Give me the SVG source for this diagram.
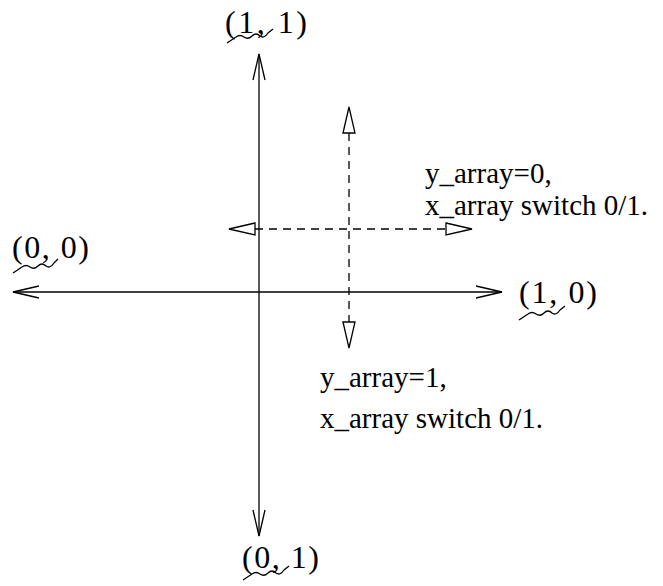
<svg xmlns="http://www.w3.org/2000/svg" width="663" height="586" viewBox="0 0 663 586">
<style>
.lbl{font-family:"Liberation Serif","Times New Roman",serif;font-size:32px;fill:#000}
.txt{font-family:"Liberation Serif","Times New Roman",serif;font-size:29px;fill:#000}
.axis{stroke:#000;stroke-width:1.3;fill:none}
.dash{stroke:#000;stroke-width:1.3;fill:none;stroke-dasharray:8,6}
.tri{stroke:#000;stroke-width:1.3;fill:#fff}
.sq{stroke:#000;stroke-width:1.3;fill:none}
</style>
<rect width="663" height="586" fill="#fff"/>
<g id="connectors">
  <line class="axis" x1="259" y1="54" x2="259" y2="536"/>
  <polyline class="axis" points="253,80 259,54 265,80"/>
  <polyline class="axis" points="253,510 259,536 265,510"/>
  <line class="axis" x1="13" y1="292" x2="502" y2="292"/>
  <polyline class="axis" points="39,286 13,292 39,298"/>
  <polyline class="axis" points="476,286 502,292 476,298"/>
  <line class="dash" x1="349" y1="133" x2="349" y2="322"/>
  <polygon class="tri" points="343,133 349,107 355,133"/>
  <polygon class="tri" points="343,322 349,348 355,322"/>
  <line class="dash" x1="255" y1="229" x2="446" y2="229"/>
  <polygon class="tri" points="255,223 229,229 255,235"/>
  <polygon class="tri" points="446,223 472,229 446,235"/>
</g>
<g id="n11">
  <text class="lbl" x="225" y="33" textLength="82" lengthAdjust="spacing">(1, 1)</text>
  <path class="sq" d="M227,43 L236,37 Q240,34 244,37 Q248,40 252,36 Q256,32 260,36 Q264,39 268,33 L273,29"/>
</g>
<g id="n00">
  <text class="lbl" x="12" y="258" textLength="77" lengthAdjust="spacing">(0, 0)</text>
  <path class="sq" d="M13,273 L22,267 Q26,264 30,267 Q34,270 38,266 Q42,262 46,266 Q50,269 54,263 L58,259"/>
</g>
<g id="n10">
  <text class="lbl" x="519" y="303" textLength="78" lengthAdjust="spacing">(1, 0)</text>
  <path class="sq" d="M519,320 L528,314 Q532,311 536,314 Q540,317 544,313 Q548,309 552,313 Q556,316 560,310 L565,306"/>
</g>
<g id="n01">
  <text class="lbl" x="242" y="568" textLength="77" lengthAdjust="spacing">(0, 1)</text>
  <path class="sq" d="M243,580 L252,574 Q256,571 260,574 Q264,577 268,573 Q272,569 276,573 Q280,576 284,570 L289,566"/>
</g>
<g id="note0">
  <text class="txt" x="425" y="183">y_array=0,</text>
  <text class="txt" x="425" y="215">x_array switch 0/1.</text>
</g>
<g id="note1">
  <text class="txt" x="320" y="387">y_array=1,</text>
  <text class="txt" x="320" y="428">x_array switch 0/1.</text>
</g>
</svg>
